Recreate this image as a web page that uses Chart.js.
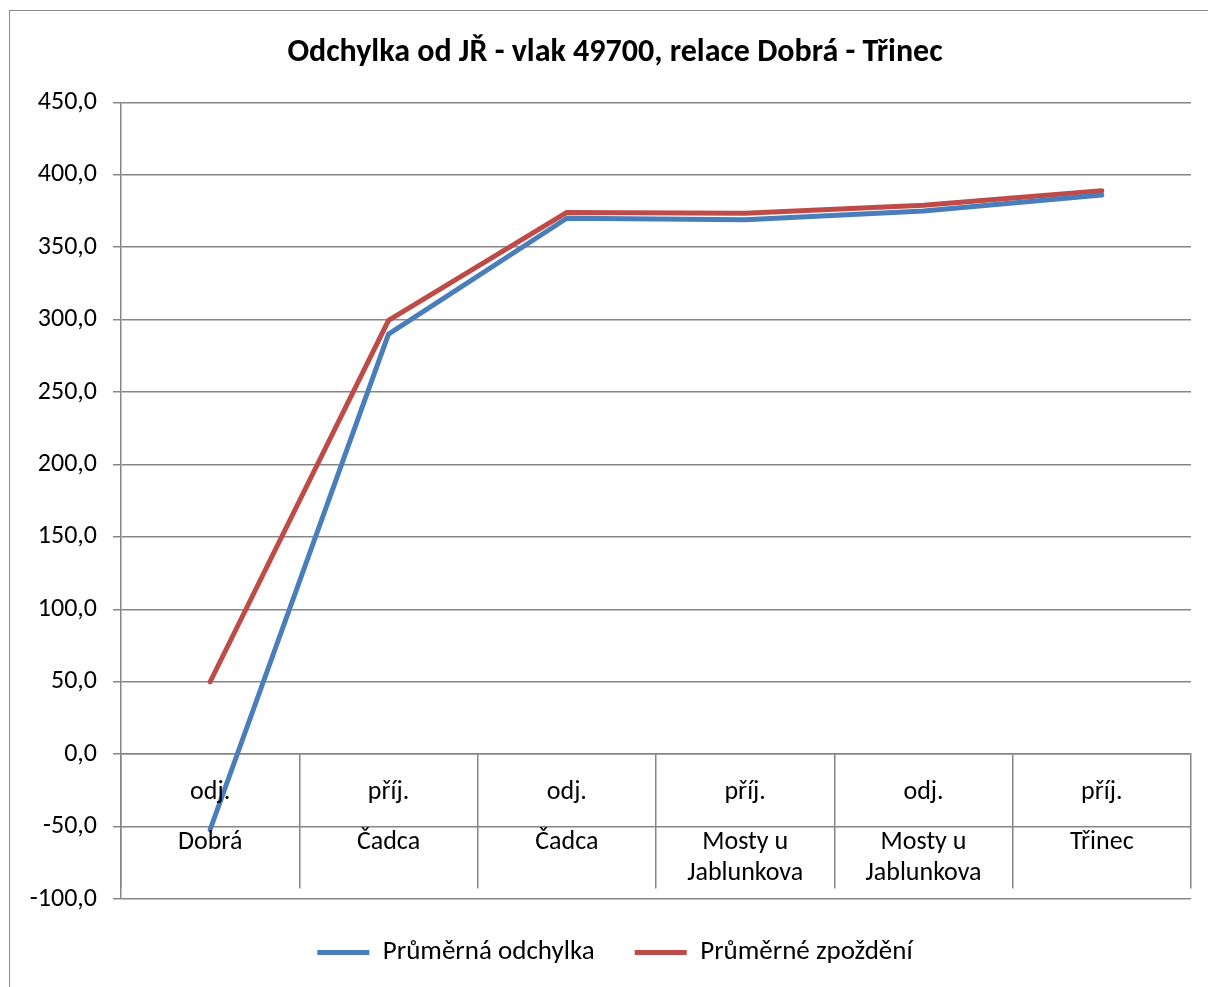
<!DOCTYPE html>
<html>
<head>
<meta charset="utf-8">
<script src="https://cdn.jsdelivr.net/npm/chart.js@4/dist/chart.umd.min.js"></script>
<style>
  html, body { margin: 0; padding: 0; overflow: hidden; background: #fff; }
  #wrap { position: relative; width: 1208px; height: 987px; }
  #frame { position: absolute; left: 9px; top: 10px; width: 1220px; height: 1000px;
           border: 1.5px solid #8c8c8c; box-sizing: border-box; }
  canvas { position: absolute; left: 0; top: 0; }
</style>
</head>
<body>
<div id="wrap">
  <div id="frame"></div>
  <canvas id="chart" width="1208" height="987"></canvas>
</div>
<script>
const stopTypes = ["odj.", "příj.", "odj.", "příj.", "odj.", "příj."];
const stations = [["Dobrá"], ["Čadca"], ["Čadca"], ["Mosty u", "Jablunkova"], ["Mosty u", "Jablunkova"], ["Třinec"]];
const avgDeviation = [-52, 290, 370, 369, 375, 386];
const avgDelay = [50, 299.5, 374, 373.5, 379, 389];
const yTicks = { min: -100, max: 450, step: 50 };

const FONT = "Carlito, 'Open Sans', sans-serif";
const GRID = "#868686";

// two-row category labels drawn between the long tick marks under y = 0
const categoryLabels = {
  id: "categoryLabels",
  afterDraw(chart) {
    const ctx = chart.ctx;
    const xs = chart.scales.x;
    const y0 = chart.scales.y.getPixelForValue(0);
    ctx.save();
    ctx.fillStyle = "#000";
    ctx.font = "26px " + FONT;
    ctx.textAlign = "center";
    ctx.textBaseline = "middle";
    stopTypes.forEach(function (t, i) {
      const x = xs.getPixelForValue(i);
      ctx.fillText(t, x, y0 + 38);
      stations[i].forEach(function (line, j) {
        ctx.fillText(line, x, y0 + 88 + j * 31);
      });
    });
    ctx.restore();
  }
};

// fix legend band height so the plot bottom lands where it should
const legendHeight = {
  id: "legendHeight",
  beforeInit(chart) {
    const lg = chart.legend;
    if (!lg) return;
    const fit = lg.fit;
    lg.fit = function () {
      fit.call(this);
      this.height = 88;
    };
  }
};

new Chart(document.getElementById("chart"), {
  type: "line",
  data: {
    labels: stations.map(function (s, i) { return stopTypes[i] + " " + s.join(" "); }),
    datasets: [
      {
        label: "Průměrná odchylka",
        data: avgDeviation,
        borderColor: "#4A7EBB",
        backgroundColor: "#4A7EBB",
        borderWidth: 5,
        borderCapStyle: "round",
        borderJoinStyle: "round",
        pointRadius: 0,
        tension: 0
      },
      {
        label: "Průměrné zpoždění",
        data: avgDelay,
        borderColor: "#BE4B48",
        backgroundColor: "#BE4B48",
        borderWidth: 5,
        borderCapStyle: "round",
        borderJoinStyle: "round",
        pointRadius: 0,
        tension: 0
      }
    ]
  },
  options: {
    responsive: false,
    animation: false,
    layout: { padding: { left: 39, right: 17, top: 0, bottom: 0 } },
    plugins: {
      title: {
        display: true,
        text: "Odchylka od JŘ - vlak 49700, relace Dobrá - Třinec",
        color: "#000",
        font: { family: FONT, size: 32, weight: "bold", lineHeight: 1.2 },
        padding: { top: 34, bottom: 30 }
      },
      legend: {
        position: "bottom",
        labels: {
          color: "#000",
          font: { family: FONT, size: 27 },
          usePointStyle: true,
          pointStyle: "line",
          pointStyleWidth: 52,
          padding: 40
        }
      },
      tooltip: { enabled: false }
    },
    scales: {
      x: {
        position: { y: 0 },
        offset: true,
        grid: {
          offset: true,
          drawOnChartArea: false,
          drawTicks: true,
          tickLength: 134,
          color: GRID,
          lineWidth: 1.5
        },
        border: { display: true, color: GRID, width: 1.5 },
        ticks: { display: false }
      },
      y: {
        min: yTicks.min,
        max: yTicks.max,
        afterFit(scale) {
          scale.width = 82;
          // labels are wider than the box, don't clip them
          scale._computeLabelArea = function () { return undefined; };
        },
        ticks: {
          stepSize: yTicks.step,
          color: "#000",
          font: { family: FONT, size: 26 },
          padding: 16,
          callback: function (v) { return v.toFixed(1).replace(".", ","); }
        },
        grid: { color: GRID, lineWidth: 1.5, tickLength: 8 },
        border: { display: true, color: GRID, width: 1.5 }
      }
    }
  },
  plugins: [categoryLabels, legendHeight]
});
</script>
</body>
</html>
